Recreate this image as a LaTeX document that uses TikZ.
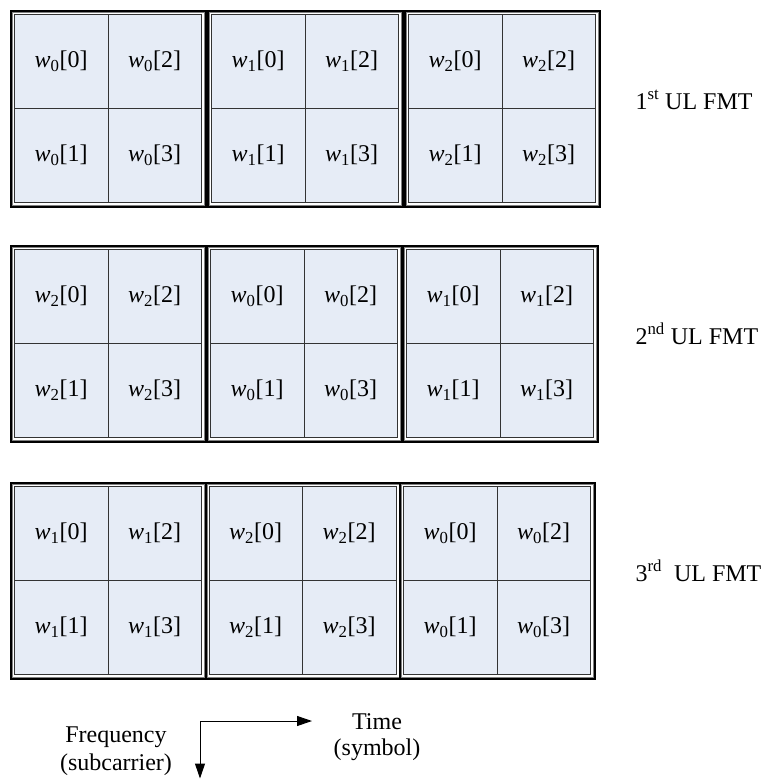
\documentclass[tikz,border=0pt]{standalone}
\usepackage{fontspec}
\setmainfont{Liberation Serif}
\usetikzlibrary{calc}
\usetikzlibrary{arrows.meta}
\usetikzlibrary{positioning}

\definecolor{cellblue}{RGB}{230,236,246}
\tikzset{
  blk/.style={draw=black, line width=2pt, fill=white, minimum width=195pt, minimum height=196pt, inner sep=0pt, anchor=north west},
  cellbox/.style={draw=black!80, line width=.8pt, fill=cellblue, minimum width=93.5pt, minimum height=94pt, inner sep=0pt, anchor=north west},
  axis/.style={line width=1pt, {Triangle[length=15pt,width=10pt]}-{Triangle[length=15pt,width=10pt]}}
}

\begin{document}
\begin{tikzpicture}[x=1pt, y=-1pt, font=\fontsize{24}{27}\selectfont]
\useasboundingbox (0,0) rectangle (764,779);
% one row per FMT, three blocks per row
\foreach \r/\top/\dx/\ua/\ub/\uc/\ord/\gap in {1/10/197/0/1/2/st/0, 2/245/196/2/0/1/nd/0, 3/482/194.5/1/2/0/rd/6} {
  \foreach \k/\u in {0/\ua, 1/\ub, 2/\uc} {
    \node[blk] (b\r\k) at ({10+\k*\dx}, \top) {};
    \draw[gray, line width=1pt] ($(b\r\k.north west)+(2.5,2.5)$) rectangle ($(b\r\k.south east)+(-2.5,-2.5)$);
    \foreach \i/\cx/\cy in {0/0/0, 1/0/1, 2/1/0, 3/1/1}
      \node[cellbox] (c\r\k\i) at ($(b\r\k.north west)+(4+93.5*\cx, 4+94*\cy)$) {\textit{w}\textsubscript{\u}[\i]};
  }
  \node[anchor=base west] (fmt\r) at (632, {\top+99}) {\r\textsuperscript{\ord}\hspace{\gap pt} UL FMT};
}

\coordinate (corner) at (200,721);
\coordinate (tend) at (312,721);
\coordinate (fend) at (200,778.5);
\draw[axis] (tend) -- (corner) -- (fend);

\node[anchor=base] (time) at (377,729) {Time};
\node[anchor=base] (sym) at ($(time.base)+(0,26)$) {(symbol)};
\node[anchor=base] (freq) at (116,742) {Frequency};
\node[anchor=base] (sub) at ($(freq.base)+(0,28)$) {(subcarrier)};

\end{tikzpicture}
\end{document}
